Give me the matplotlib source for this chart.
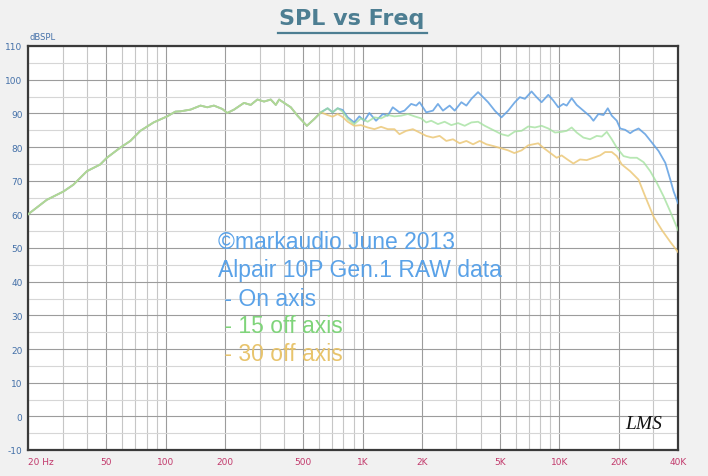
import matplotlib
matplotlib.use("Agg")
import matplotlib.pyplot as plt
from matplotlib.lines import Line2D
from matplotlib.ticker import FixedLocator, NullFormatter

plt.rcParams["axes.unicode_minus"] = False

# ---------------- data ----------------
freq_common = [20, 24.9, 30.3, 34, 39.8, 46.5, 50.3, 58.8, 66.2, 74.4, 86.9, 101.8,
               112, 119, 133.7, 150.4, 162.7, 175.9, 194, 205.6, 222.4, 250, 270.4,
               292.4, 316.2, 341.9, 362.6, 377, 399.6, 432.2, 467.4, 521.5, 568.5, 614.6]
spl_common = [60, 64.3, 66.8, 68.8, 72.8, 74.8, 76.8, 79.8, 81.8, 84.8, 87.3, 89.1,
              90.5, 90.6, 91.1, 92.3, 91.8, 92.3, 91.3, 90.1, 91.1, 93.1, 92.5,
              94.1, 93.5, 94.1, 92.5, 94.1, 93.1, 91.8, 89.3, 86.3, 88.3, 90.3]

freq_on = [664.6, 704.8, 747.4, 792.6, 841, 908, 963, 1021, 1083, 1171, 1267, 1343,
           1424, 1540, 1633, 1766, 1873, 1948, 2106, 2278, 2415, 2561, 2769, 2937,
           3176, 3367, 3571, 3861, 4095, 4342, 4695, 5076, 5490, 5937, 6294, 6675,
           7216, 7653, 8115, 8775, 9306, 9867, 10465, 10880, 11540, 12230, 13230,
           14305, 14875, 15775, 16730, 17600, 18440, 19555, 20340, 21570, 22870,
           23780, 25220, 27270, 29490, 31880, 34480, 36560, 38010, 40000]
spl_on = [91.5, 90.3, 91.5, 91.0, 88.8, 87.3, 89.1, 87.8, 90.1, 87.8, 89.8, 89.3,
          91.8, 90.3, 90.8, 92.8, 92.3, 93.3, 90.3, 90.8, 92.8, 90.8, 92.3, 90.8,
          93.3, 92.3, 94.3, 96.3, 94.8, 93.3, 90.8, 88.8, 90.8, 93.3, 94.8, 94.3,
          96.5, 94.8, 93.3, 95.5, 93.8, 91.8, 92.8, 92.3, 94.5, 92.5, 90.8,
          89.1, 87.8, 89.8, 89.5, 91.5, 89.3, 87.8, 85.5, 85.1, 84.1,
          84.8, 85.5, 83.8, 81.3, 78.8, 75.3, 70.3, 66.8, 63.3]

freq_15 = [664.6, 704.8, 747.4, 792.6, 841, 908, 982, 1062, 1149, 1242, 1343, 1452,
           1571, 1699, 1837, 1986, 2106, 2233, 2415, 2611, 2824, 3054, 3302, 3571,
           3861, 4175, 4695, 5076, 5490, 5937, 6420, 6941, 7505, 8115, 8775, 9491,
           10260, 10880, 11540, 12230, 13230, 14305, 15470, 16405, 17395, 18440,
           19555, 21150, 22870, 24730, 26740, 28920, 31270, 33810, 36560, 40000]
spl_15 = [91.5, 90.3, 91.5, 90.5, 88.3, 86.8, 88.5, 87.5, 88.8, 88.5, 89.5, 89.1,
          89.3, 89.8, 89.1, 88.5, 87.3, 87.8, 86.8, 87.5, 86.5, 87.1, 86.3, 87.3,
          87.5, 86.3, 84.8, 83.8, 83.3, 84.6, 84.8, 86.1, 85.8, 86.3, 85.5, 84.3,
          84.5, 84.8, 85.8, 84.3, 82.8, 82.3, 83.3, 83.1, 84.5, 82.3,
          79.8, 77.3, 76.8, 76.8, 75.5, 72.8, 69.3, 65.3, 60.8, 55.3]

freq_30 = [664.6, 704.8, 747.4, 792.6, 841, 908, 982, 1062, 1149, 1242, 1343, 1452,
           1540, 1666, 1801, 1948, 2106, 2278, 2463, 2663, 2879, 3114, 3367, 3641,
           3937, 4257, 4604, 5076, 5490, 5900, 6420, 6941, 7359, 7804, 8276, 8948,
           9678, 10260, 11095, 11770, 12720, 13755, 14875, 16085, 17060, 18440,
           19555, 20740, 22870, 25220, 27270, 30070, 33150, 36560, 40000]
spl_30 = [89.5, 89.0, 89.8, 88.9, 87.5, 86.3, 86.5, 85.8, 85.3, 86.0, 85.3, 85.3,
          83.8, 84.8, 85.3, 84.3, 83.3, 82.8, 83.3, 81.8, 82.3, 81.1, 81.8, 80.8,
          81.8, 80.8, 80.3, 79.6, 79.0, 78.2, 79.0, 80.5, 80.8, 81.1, 79.8, 78.3,
          76.8, 77.5, 76.1, 75.1, 76.3, 76.1, 76.8, 77.5, 78.5, 78.5,
          77.3, 74.8, 72.8, 70.3, 65.3, 59.3, 55.3, 51.8, 48.8]

x_tick_values = [20, 50, 100, 200, 500, 1000, 2000, 5000, 10000, 20000, 40000]
x_tick_labels = ["20 Hz", "50", "100", "200", "500", "1K", "2K", "5K", "10K", "20K", "40K"]
y_tick_values = list(range(-10, 111, 10))
y_minor_values = list(range(-5, 110, 10))
x_minor_values = [m * d for d in (10, 100, 1000, 10000) for m in range(1, 10)
                  if 20 < m * d < 40000 and m * d not in x_tick_values]

annotation_lines = ["©markaudio June 2013", "Alpair 10P Gen.1 RAW data",
                    " - On axis", " - 15 off axis", " - 30 off axis"]

# ---------------- styling ----------------
c_on = "#5f9fe2"
c_15 = "#9fe09a"
c_30 = "#ecc878"
txt_cols = ["#5aa2e8", "#5aa2e8", "#5aa2e8", "#7fd47a", "#e8c46c"]

fig = plt.figure(figsize=(7.08, 4.77), dpi=100, facecolor="#f1f1f1")
ax = fig.add_axes([28 / 708, 1 - 451 / 477, 650 / 708, 404 / 477])
ax.set_facecolor("white")
ax.set_xscale("log")
ax.set_xlim(20, 40000)
ax.set_ylim(-10, 110)

ax.xaxis.set_major_locator(FixedLocator(x_tick_values))
ax.xaxis.set_minor_locator(FixedLocator(x_minor_values))
ax.xaxis.set_minor_formatter(NullFormatter())
ax.set_xticklabels(x_tick_labels)
ax.yaxis.set_major_locator(FixedLocator(y_tick_values))
ax.yaxis.set_minor_locator(FixedLocator(y_minor_values))

ax.grid(which="major", axis="both", color="#9c9c9c", lw=0.8, zorder=1)
ax.grid(which="minor", axis="x", color="#c6c6c6", lw=0.8, zorder=1)
ax.grid(which="minor", axis="y", color="#d6d6d6", lw=0.8, zorder=1)
ax.set_axisbelow(True)

ax.tick_params(which="both", length=0)
ax.tick_params(axis="x", labelsize=6.5, labelcolor="#c23a6c", pad=5)
ax.tick_params(axis="y", labelsize=6.5, labelcolor="#4470a8", pad=4)
xl = ax.get_xticklabels()
xl[0].set_horizontalalignment("left")

for s in ax.spines.values():
    s.set_color("#3a3a3a")
    s.set_linewidth(1.6)

lw = 1.3
ax.plot(freq_common + freq_on, spl_common + spl_on, color=c_on, lw=lw, alpha=0.85, zorder=3)
ax.plot(freq_common + freq_30, spl_common + spl_30, color=c_30, lw=lw, alpha=0.85, zorder=4)
ax.plot(freq_common + freq_15, spl_common + spl_15, color=c_15, lw=lw, alpha=0.75, zorder=5)

# annotation text block
for i, (t, c) in enumerate(zip(annotation_lines, txt_cols)):
    fig.text(218 / 708, 1 - (243 + 28 * i) / 477, t, color=c, fontsize=16.5,
             family="Liberation Sans", va="center", ha="left")

# LMS logo
ax.text(0.975, 0.045, "LMS", transform=ax.transAxes, fontsize=14, style="italic",
        family="Liberation Serif", color="#111111", ha="right", va="bottom")

# dBSPL label
fig.text(30 / 708, 1 - 38 / 477, "dBSPL", fontsize=6, color="#4470a8",
         ha="left", va="center")

# title with underline
fig.text(352 / 708, 1 - 25 / 477, "SPL vs Freq", fontsize=16, weight="bold",
         color="#4d7e92", ha="center", va="baseline", family="DejaVu Sans")
fig.add_artist(Line2D([278 / 708, 427 / 708], [1 - 33.5 / 477, 1 - 33.5 / 477],
                      color="#4d7e92", lw=1.6, transform=fig.transFigure))

fig.savefig("out.png", dpi=100, facecolor=fig.get_facecolor())
